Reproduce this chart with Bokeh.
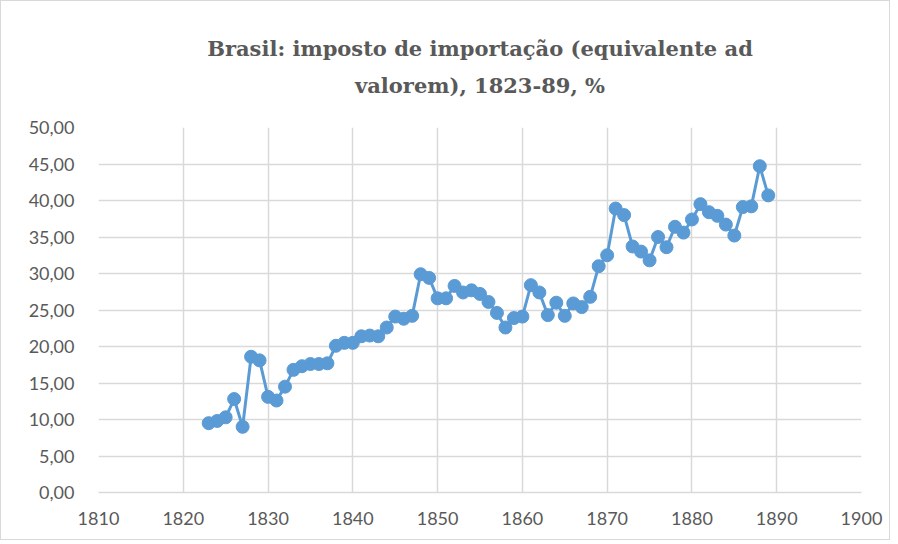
from bokeh.plotting import figure
from bokeh.models import Title, FixedTicker, Range1d
from bokeh.embed import file_html
from bokeh.resources import INLINE

years = list(range(1823, 1890))
tariff = [9.5, 9.8, 10.3, 12.8, 9.0, 18.6, 18.1, 13.1, 12.6, 14.5,
          16.8, 17.3, 17.6, 17.6, 17.7, 20.1, 20.5, 20.5, 21.4, 21.5,
          21.4, 22.6, 24.1, 23.8, 24.2, 29.9, 29.4, 26.6, 26.6, 28.3,
          27.4, 27.7, 27.2, 26.1, 24.6, 22.6, 23.9, 24.1, 28.4, 27.4,
          24.3, 26.0, 24.2, 25.9, 25.4, 26.8, 31.0, 32.5, 38.9, 38.0,
          33.7, 33.0, 31.8, 35.0, 33.6, 36.4, 35.6, 37.4, 39.5, 38.4,
          37.9, 36.7, 35.2, 39.1, 39.2, 44.7, 40.7]

x_ticks = [1810, 1820, 1830, 1840, 1850, 1860, 1870, 1880, 1890, 1900]
y_ticks = [0, 5, 10, 15, 20, 25, 30, 35, 40, 45, 50]
y_labels = ["0,00", "5,00", "10,00", "15,00", "20,00", "25,00", "30,00",
            "35,00", "40,00", "45,00", "50,00"]
title_lines = ["Brasil: imposto de importação (equivalente ad",
               "valorem), 1823-89, %"]

p = figure(width=890, height=540, output_backend="svg", toolbar_location=None,
           x_range=Range1d(1810, 1900), y_range=Range1d(0, 50),
           min_border_left=97, min_border_right=30, min_border_top=126,
           min_border_bottom=49)
p.title = None
title_font = "DejaVu Serif"
# titles in "above" stack outward: spacer first, then line 2, then line 1
p.add_layout(Title(text=" ", text_font_size="1px", standoff=17), "above")
p.add_layout(Title(text=title_lines[1], align="center", text_font=title_font,
                   text_font_size="21px", text_font_style="bold",
                   text_color="#595959", standoff=20), "above")
p.add_layout(Title(text=title_lines[0], align="center", text_font=title_font,
                   text_font_size="21px", text_font_style="bold",
                   text_color="#595959", standoff=0), "above")
p.outline_line_color = None
p.styles = {"border": "1px solid #d9d9d9"}

p.xaxis.ticker = FixedTicker(ticks=x_ticks)
p.yaxis.ticker = FixedTicker(ticks=y_ticks)
p.yaxis.major_label_overrides = {t: l for t, l in zip(y_ticks, y_labels)}
for ax in (p.xaxis[0], p.yaxis[0]):
    ax.major_tick_line_color = None
    ax.minor_tick_line_color = None
    ax.major_label_text_font = "Lato"
    ax.major_label_text_font_size = "18px"
    ax.major_label_text_color = "#595959"
p.xaxis.axis_line_color = "#d9d9d9"
p.xaxis.axis_line_width = 1.5
p.yaxis.axis_line_color = None
p.xaxis.major_label_standoff = 13
p.yaxis.major_label_standoff = 18
p.xgrid.grid_line_color = "#d9d9d9"
p.ygrid.grid_line_color = "#d9d9d9"
p.xgrid.grid_line_width = 1.5
p.ygrid.grid_line_width = 1.5

p.line(years, tariff, line_color="#5b9bd5", line_width=3)
p.scatter(years, tariff, size=13, fill_color="#5b9bd5", line_color="#5b9bd5")

open("out.html", "w").write(file_html(p, INLINE))
